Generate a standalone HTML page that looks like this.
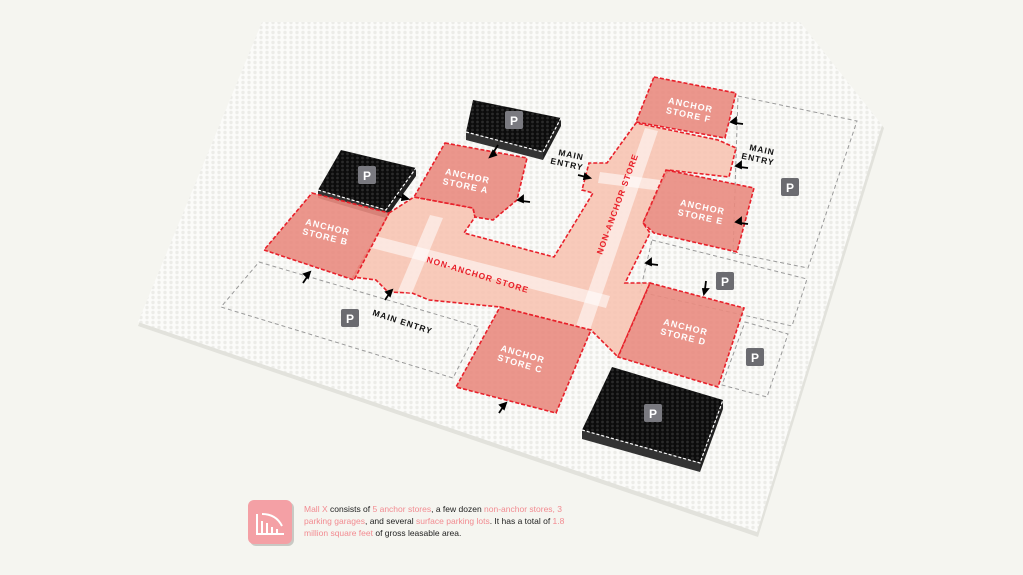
<!DOCTYPE html>
<html><head><meta charset="utf-8"><style>
html,body{margin:0;padding:0;background:#f5f5f0;}
svg{display:block}
text{font-family:"Liberation Sans",sans-serif;}
</style></head><body>
<svg width="1023" height="575" viewBox="0 0 1023 575" xmlns="http://www.w3.org/2000/svg">
<defs>
<pattern id="studs" width="6" height="5" patternUnits="userSpaceOnUse">
<rect width="6" height="5" fill="#fbfbf9"/>
<circle cx="3" cy="2.5" r="1.7" fill="#ececE8"/>
</pattern>
<pattern id="bstuds" width="5" height="4" patternUnits="userSpaceOnUse">
<rect width="5" height="4" fill="#0c0c0c"/>
<circle cx="2.5" cy="2" r="1.4" fill="#2a2a2a"/>
</pattern>
</defs>
<rect width="1023" height="575" fill="#f5f5f0"/>
<!-- baseplate -->
<polygon points="262,25 802,25 884,128 758,537 138,326" fill="#e2e2dc"/>
<polygon points="262,22 800,22 882,125 757,532 138,322" fill="url(#studs)"/>
<!-- surface lots -->
<g fill="none" stroke="#9a9a9a" stroke-width="1" stroke-dasharray="4,3">
<polygon points="259,262 479,327 453,378 221,307"/>
<polygon points="738,96 857,121 808,268 733,253"/>
<polygon points="652,240 807,279 792,326 640,292"/>
<polygon points="745,322 788,334 767,397 722,385"/>
</g>
<!-- parking garages -->
<g>
<polygon points="466,132 543,152 543,160 466,140" fill="#333"/>
<polygon points="543,152 561,118 561,126 543,160" fill="#222"/>
<polygon points="473,100 561,118 543,152 466,132" fill="url(#bstuds)"/>
<polyline points="466,132 543,152 561,118" fill="none" stroke="#fff" stroke-width="1.2" stroke-dasharray="3,2"/>
<polygon points="318,190 386,210 386,218 318,198" fill="#333"/>
<polygon points="386,210 416,168 416,176 386,218" fill="#222"/>
<polygon points="341,150 416,168 386,210 318,190" fill="url(#bstuds)"/>
<polyline points="318,190 386,210 416,168" fill="none" stroke="#fff" stroke-width="1.2" stroke-dasharray="3,2"/>
<polygon points="582,430 700,463 700,472 582,439" fill="#333"/>
<polygon points="700,463 723,400 723,409 700,472" fill="#222"/>
<polygon points="612,367 723,400 700,463 582,430" fill="url(#bstuds)"/>
<polyline points="582,430 700,463 723,400" fill="none" stroke="#fff" stroke-width="1.2" stroke-dasharray="3,2"/>
</g>
<!-- corridor -->
<polygon points="389,213 414,197 473,208 475,217 464,233 554,257 593,193 582,190 589,163 607,163 636,123 718,140 736,148 729,177 668,170 643,223 650,233 625,283 650,283 618,357 591,330 500,307 429,300 412,293 388,292 376,280 353,277" fill="#f7c4b2" fill-opacity="0.9" stroke="#e8202a" stroke-width="1.6" stroke-dasharray="4,2"/>
<!-- walkway stripes -->
<g fill="#ffffff" fill-opacity="0.55">
<polygon points="360,232 610,296 606,308 356,244"/>
<polygon points="430,215 443,218 412,293 398,291"/>
<polygon points="645,128 658,131 590,330 576,326"/>
<polygon points="600,172 735,190 733,200 598,183"/>
</g>
<!-- anchor stores -->
<g fill="#e98b80" fill-opacity="0.9" stroke="#e8202a" stroke-width="1.6" stroke-dasharray="4,2">
<polygon points="445,143 527,158 517,200 493,220 475,217 473,208 414,197"/>
<polygon points="312,193 389,213 354,280 264,250"/>
<polygon points="654,77 736,93 725,138 636,122"/>
<polygon points="666,170 754,188 737,252 654,233 643,223"/>
<polygon points="650,283 744,308 718,387 618,357"/>
<polygon points="500,307 591,330 556,413 456,387"/>
</g>
<g fill="#fff" font-size="9" font-weight="bold" letter-spacing="1" text-anchor="middle">
<text transform="translate(467,179) rotate(12)">ANCHOR<tspan x="0" dy="10">STORE A</tspan></text>
<text transform="translate(327,230) rotate(14)">ANCHOR<tspan x="0" dy="10">STORE B</tspan></text>
<text transform="translate(690,108) rotate(12)">ANCHOR<tspan x="0" dy="10">STORE F</tspan></text>
<text transform="translate(702,210) rotate(12)">ANCHOR<tspan x="0" dy="10">STORE E</tspan></text>
<text transform="translate(685,330) rotate(14)">ANCHOR<tspan x="0" dy="10">STORE D</tspan></text>
<text transform="translate(522,357) rotate(16)">ANCHOR<tspan x="0" dy="10">STORE C</tspan></text>
</g>
<g fill="#e8202a" font-size="8.5" font-weight="bold" letter-spacing="1">
<text transform="translate(426,262) rotate(17)">NON-ANCHOR STORE</text>
<text transform="translate(602,255) rotate(-70)">NON-ANCHOR STORE</text>
</g>
<g fill="#111" font-size="8.5" font-weight="bold" letter-spacing="1">
<text transform="translate(558,155) rotate(12)">MAIN<tspan x="-6" dy="10">ENTRY</tspan></text>
<text transform="translate(749,150) rotate(12)">MAIN<tspan x="-6" dy="10">ENTRY</tspan></text>
<text transform="translate(372,315) rotate(18)">MAIN ENTRY</text>
</g>
<!-- arrows -->
<g stroke="#000" stroke-width="1.8" fill="#000">
<path d="M498,145 l-5,8" /><path d="M490,157 l6,-2 l-3,-4z"/>
<path d="M396,196 l8,2"/><path d="M408,199 l-5,-4 l-1,5z"/>
<path d="M530,202 l-8,-1"/><path d="M518,200 l5,-4 l0,6z"/>
<path d="M578,175 l8,2"/><path d="M590,178 l-5,-4 l-1,5z"/>
<path d="M743,124 l-8,-1"/><path d="M731,122 l5,-4 l0,6z"/>
<path d="M748,168 l-8,-1"/><path d="M736,166 l5,-4 l0,6z"/>
<path d="M748,224 l-8,-1"/><path d="M736,222 l5,-4 l0,6z"/>
<path d="M658,265 l-8,-1"/><path d="M646,263 l5,-4 l0,6z"/>
<path d="M706,281 l-1,8"/><path d="M704,294 l4,-5 l-5,0z"/>
<path d="M303,283 l4,-6"/><path d="M310,272 l-6,2 l4,4z"/>
<path d="M385,300 l4,-6"/><path d="M392,290 l-6,2 l4,4z"/>
<path d="M499,413 l4,-6"/><path d="M506,403 l-6,2 l4,4z"/>
</g>
<!-- P badges -->
<g font-size="12" font-weight="bold" fill="#fff" text-anchor="middle">
<rect x="505" y="111" width="18" height="18" rx="2" fill="#7a7a80"/><text x="514" y="125">P</text>
<rect x="358" y="166" width="18" height="18" rx="2" fill="#7a7a80"/><text x="367" y="180">P</text>
<rect x="644" y="404" width="18" height="18" rx="2" fill="#7a7a80"/><text x="653" y="418">P</text>
<rect x="341" y="309" width="18" height="18" rx="2" fill="#6b6b70"/><text x="350" y="323">P</text>
<rect x="781" y="178" width="18" height="18" rx="2" fill="#6b6b70"/><text x="790" y="192">P</text>
<rect x="716" y="272" width="18" height="18" rx="2" fill="#6b6b70"/><text x="725" y="286">P</text>
<rect x="746" y="348" width="18" height="18" rx="2" fill="#6b6b70"/><text x="755" y="362">P</text>
</g>
<!-- caption -->
<rect x="250" y="502" width="44" height="44" rx="6" fill="#c9c9c4"/>
<rect x="248" y="500" width="44" height="44" rx="6" fill="#f4a0a5"/>
<g stroke="#fff" stroke-width="2" fill="none">
<path d="M257,514 v20 h27"/><path d="M262,533 v-12 M267,533 v-10 M272,533 v-6 M277,533 v-4"/>
<path d="M262,514 q14,0 20,12"/>
</g>
<g font-size="8.5" fill="#222">
<text x="304" y="512"><tspan fill="#f28b91">Mall X</tspan> consists of <tspan fill="#f28b91">5 anchor stores</tspan>, a few dozen <tspan fill="#f28b91">non-anchor stores, 3</tspan></text>
<text x="304" y="524"><tspan fill="#f28b91">parking garages</tspan>, and several <tspan fill="#f28b91">surface parking lots</tspan>. It has a total of <tspan fill="#f28b91">1.8</tspan></text>
<text x="304" y="536"><tspan fill="#f28b91">million square feet</tspan> of gross leasable area.</text>
</g>
</svg>
</body></html>
